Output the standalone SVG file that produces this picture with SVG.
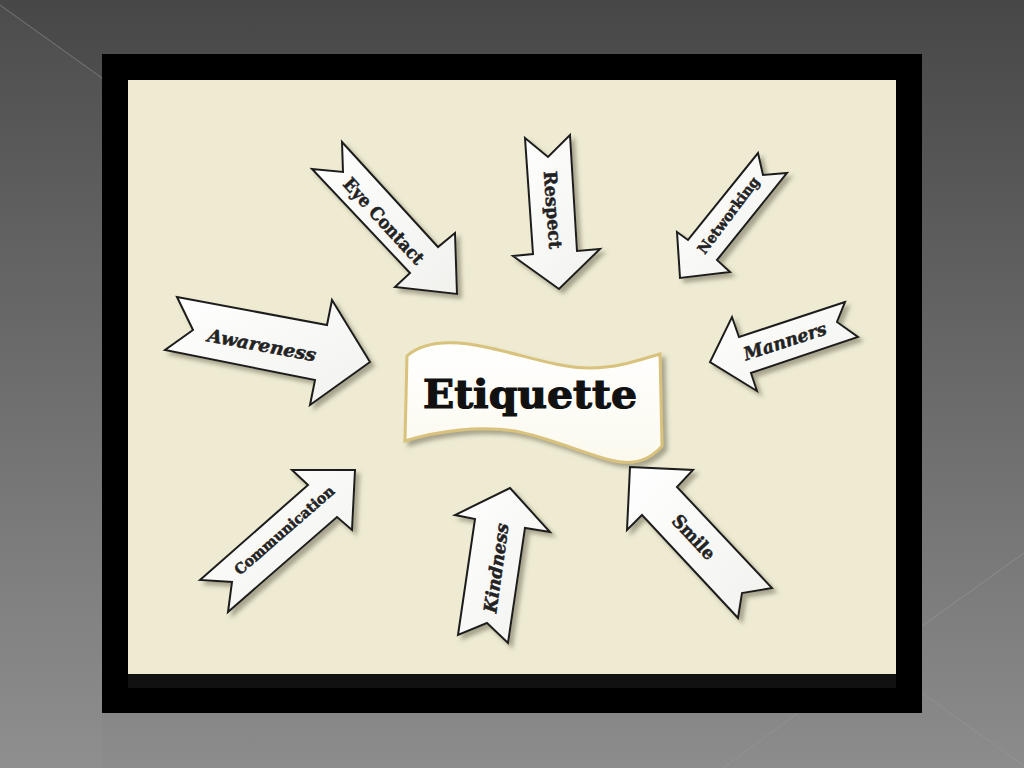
<svg xmlns="http://www.w3.org/2000/svg" width="1024" height="768" viewBox="0 0 1024 768">
  <defs>
    <linearGradient id="bg" x1="0" y1="0" x2="0" y2="1">
      <stop offset="0" stop-color="#474747"/>
      <stop offset="1" stop-color="#8c8c8c"/>
    </linearGradient>
    <linearGradient id="arrowFill" x1="0" y1="0" x2="1" y2="1">
      <stop offset="0" stop-color="#ffffff"/>
      <stop offset="1" stop-color="#f1f1ee"/>
    </linearGradient>
    <linearGradient id="bannerFill" x1="0" y1="0" x2="0" y2="1">
      <stop offset="0" stop-color="#ffffff"/>
      <stop offset="1" stop-color="#fbf9ee"/>
    </linearGradient>
    <filter id="shadow" x="-20%" y="-20%" width="150%" height="150%">
      <feDropShadow dx="4" dy="4" stdDeviation="2.2" flood-color="#6e6b55" flood-opacity="0.55"/>
    </filter>
  </defs>
  <style>
    .arrow { fill: url(#arrowFill); stroke: #1e1e1e; stroke-width: 2; stroke-linejoin: miter; filter: url(#shadow); }
    .lbl { font-family: "DejaVu Serif", "Liberation Serif", serif; font-weight: bold; fill: #222222; stroke: #222222; stroke-width: 0.5; text-anchor: middle; dominant-baseline: central; }
    .it { font-style: italic; }
    .bgline { stroke: #9a9a9a; stroke-width: 1; stroke-opacity: 0.55; fill: none; }
  </style>

  <!-- background -->
  <rect x="0" y="0" width="1024" height="768" fill="url(#bg)"/>
  <polygon points="0,5 102,78 102,768 0,768" fill="#ffffff" fill-opacity="0.03"/>
  <line class="bgline" x1="0" y1="5" x2="102" y2="78"/>
  <line class="bgline" x1="922" y1="626" x2="1024" y2="553"/>
  <line class="bgline" x1="922" y1="693" x2="1024" y2="766"/>
  <line class="bgline" x1="798" y1="713" x2="723" y2="768"/>

  <!-- frame -->
  <rect x="102" y="54" width="820" height="659" fill="#000000"/>
  <rect x="128" y="80" width="768" height="594" fill="#eeebd2"/>
  <rect x="128" y="674" width="768" height="14" fill="#111111"/>

  <g id="connectors"/>

  <g id="node-etiquette">
    <path d="M 407,356 C 425,340 455,340 490,348 C 530,357 560,368 590,368 C 620,368 645,358 660,354 L 662,446 C 650,460 632,466 610,460 C 580,452 550,438 515,431 C 480,426 440,430 405,441 Z" fill="url(#bannerFill)" stroke="#d9c27c" stroke-width="3" filter="url(#shadow)"/>
    <text x="530" y="408" font-family="DejaVu Serif, Liberation Serif, serif" font-weight="bold" font-size="40" fill="#111111" stroke="#111111" stroke-width="1.2" text-anchor="middle" textLength="214" lengthAdjust="spacingAndGlyphs">Etiquette</text>
  </g>

  <g id="node-eye-contact">
    <polygon class="arrow" points="342,142 438,247 455,233 457,294 395,287 410,273 312,169 343,172"/>
    <text class="lbl" font-size="18" transform="translate(384,221) rotate(47.5)" textLength="110" lengthAdjust="spacingAndGlyphs">Eye Contact</text>
  </g>

  <g id="node-respect">
    <polygon class="arrow" points="525,138 548,157 570,135 577,251 600,249 559,289 513,256 533,254"/>
    <text class="lbl" font-size="18" transform="translate(553,210) rotate(86)" textLength="78" lengthAdjust="spacingAndGlyphs">Respect</text>
  </g>

  <g id="node-networking">
    <polygon class="arrow" points="758,153 763,175 787,173 717,260 730,272 680,278 677,232 688,240"/>
    <text class="lbl" font-size="14.5" transform="translate(728,215) rotate(-53)" textLength="92" lengthAdjust="spacingAndGlyphs">Networking</text>
  </g>

  <g id="node-awareness">
    <polygon class="arrow" points="177,297 327,325 332,300 370,362 310,405 315,380 165,350 193,330"/>
    <text class="lbl it" font-size="18" transform="translate(262,345) rotate(10.5)" textLength="110" lengthAdjust="spacingAndGlyphs">Awareness</text>
  </g>

  <g id="node-manners">
    <polygon class="arrow" points="845,302 739,337 732,317 710,362 757,391 751,373 858,337 837,322"/>
    <text class="lbl it" font-size="18" transform="translate(785,341) rotate(-18)" textLength="86" lengthAdjust="spacingAndGlyphs">Manners</text>
  </g>

  <g id="node-communication">
    <polygon class="arrow" points="200,580 308,485 292,470 355,470 352,530 337,517 228,612 232,582"/>
    <text class="lbl" font-size="14.5" transform="translate(284,530) rotate(-41)" textLength="127" lengthAdjust="spacingAndGlyphs">Communication</text>
  </g>

  <g id="node-kindness">
    <polygon class="arrow" points="510,488 550,532 525,528 508,643 487,623 458,635 475,519 455,515"/>
    <text class="lbl it" font-size="18" transform="translate(496,568) rotate(-82)" textLength="90" lengthAdjust="spacingAndGlyphs">Kindness</text>
  </g>

  <g id="node-smile">
    <polygon class="arrow" points="630,467 693,470 677,487 772,588 742,593 738,618 642,515 627,530"/>
    <text class="lbl" font-size="18" transform="translate(694,537) rotate(47)" textLength="54" lengthAdjust="spacingAndGlyphs">Smile</text>
  </g>
</svg>
